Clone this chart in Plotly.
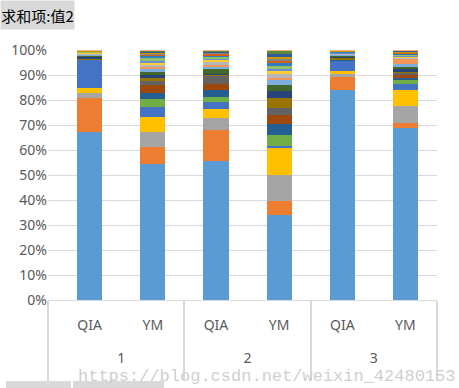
import plotly.graph_objects as go

groups = ["1", "2", "3"]
cats = ["QIA", "YM", "QIA", "YM", "QIA", "YM"]
bar_ids = ["1-QIA", "1-YM", "2-QIA", "2-YM", "3-QIA", "3-YM"]

# series values per bar (QIA1, YM1, QIA2, YM2, QIA3, YM3), percent of each bar
series = [
    [67.3, 54.6, 55.6, 34.0, 84.4, 69.0],
    [13.7, 6.5, 12.7, 5.6, 5.5, 1.9],
    [2.0, 6.3, 4.5, 10.4, 1.3, 6.9],
    [2.2, 6.0, 3.6, 11.0, 0.9, 6.3],
    [11.0, 4.0, 2.8, 0.7, 4.3, 2.5],
    [0.0, 3.1, 2.0, 4.3, 0.0, 1.6],
    [0.0, 2.4, 2.8, 4.5, 0.3, 0.8],
    [0.0, 3.2, 2.7, 3.5, 0.0, 1.2],
    [0.0, 1.6, 2.9, 2.9, 0.0, 0.8],
    [0.9, 1.3, 0.9, 3.9, 0.9, 0.4],
    [0.8, 1.2, 0.2, 2.8, 0.4, 1.1],
    [0.3, 1.2, 1.7, 2.4, 0.3, 0.8],
    [0.3, 1.0, 1.2, 2.1, 0.4, 1.2],
    [0.2, 0.9, 0.7, 0.8, 0.2, 1.9],
    [0.3, 0.8, 0.9, 1.5, 0.3, 0.5],
    [0.4, 0.9, 1.2, 1.1, 0.2, 0.5],
    [0.1, 0.7, 0.5, 0.8, 0.2, 0.4],
    [0.1, 1.3, 0.7, 1.2, 0.1, 0.4],
    [0.1, 0.7, 0.5, 1.2, 0.2, 0.3],
    [0.1, 0.5, 0.5, 1.3, 0.1, 0.3],
    [0.1, 0.4, 0.4, 0.3, 0.2, 0.3],
    [0.1, 0.4, 0.3, 1.0, 0.1, 0.3],
    [0.1, 0.4, 0.3, 1.3, 0.1, 0.2],
    [0.1, 0.3, 0.2, 1.2, 0.1, 0.2],
    [0.1, 0.2, 0.2, 0.2, 0.1, 0.1],
    [0.1, 0.2, 0.2, 0.1, 0.1, 0.1],
]

colors = [
    "#5B9BD5", "#ED7D31", "#A5A5A5", "#FFC000", "#4472C4", "#70AD47",
    "#255E91", "#9E480E", "#636363", "#997300", "#264478", "#43682B",
    "#7CAFDD", "#F1975A", "#B7B7B7", "#FFCD33", "#698ED0", "#8CC168",
    "#327DC2", "#D26012", "#848484", "#CC9A00", "#335AA1", "#5A8A39",
    "#9DC3E6", "#F4B183",
]

ytick_vals = [0, 10, 20, 30, 40, 50, 60, 70, 80, 90, 100]
ytick_text = [f"{v}%" for v in ytick_vals]

fig = go.Figure()
for i, vals in enumerate(series):
    fig.add_trace(go.Bar(
        x=bar_ids, y=vals, name=f"S{i+1}",
        marker=dict(color=colors[i % len(colors)], line=dict(width=0)),
    ))
# empty traces so the helper axes exist
fig.add_trace(go.Scatter(x=[], y=[], xaxis="x2", showlegend=False))
fig.add_trace(go.Scatter(x=[], y=[], xaxis="x3", showlegend=False))

n = len(bar_ids)
xr = [-0.66, n - 0.5]
font_main = "Noto Sans, Liberation Sans, sans-serif"
fig.update_layout(
    barmode="stack", barnorm="percent", bargap=0.6,
    width=459, height=388,
    margin=dict(l=48, r=22, t=50, b=88),
    paper_bgcolor="white", plot_bgcolor="white",
    showlegend=False,
    font=dict(family=font_main, size=14, color="#595959"),
    yaxis=dict(range=[0, 100], tickvals=ytick_vals, ticktext=ytick_text,
               showgrid=True, gridcolor="#D9D9D9", gridwidth=1,
               zeroline=False, showline=False, ticks="", automargin=False,
               tickfont=dict(size=14, color="#595959")),
    xaxis=dict(type="category", range=xr,
               tickvals=bar_ids, ticktext=cats,
               showgrid=False, showline=True, automargin=False,
               linecolor="#D9D9D9", linewidth=1, ticks="",
               ticklabelstandoff=12,
               tickfont=dict(size=14, color="#595959")),
    xaxis2=dict(overlaying="x", anchor="y", side="bottom", range=xr,
                tickvals=[xr[0], 1.5, 3.5, 5.5], ticktext=["", "", "", ""],
                ticks="outside", ticklen=80, tickwidth=2, tickcolor="#D9D9D9",
                showgrid=False, zeroline=False, showline=False, automargin=False),
    xaxis3=dict(overlaying="x", anchor="y", side="bottom", range=xr,
                tickvals=[0.5, 2.5, 4.5], ticktext=groups,
                ticks="", ticklabelstandoff=48,
                showgrid=False, zeroline=False, showline=False, automargin=False,
                tickfont=dict(size=14, color="#595959")),
)

# pivot field button
fig.add_annotation(xref="paper", yref="paper", x=-0.1234, y=1.2,
                   xanchor="left", yanchor="top", showarrow=False,
                   text="求和项:值2", bgcolor="#D9D9D9", borderpad=0,
                   width=73, height=28,
                   font=dict(family="Noto Sans CJK SC", size=15, color="#000000"))
# bottom buttons (partially visible)
fig.add_shape(type="rect", xref="paper", yref="paper", x0=-0.108, x1=0.0591,
              y0=-0.36, y1=-0.324, fillcolor="#D9D9D9", line=dict(width=0))
fig.add_shape(type="rect", xref="paper", yref="paper", x0=0.0643, x1=0.298,
              y0=-0.36, y1=-0.324, fillcolor="#D9D9D9", line=dict(width=0))
# watermark
fig.add_annotation(xref="paper", yref="paper", x=0.072, y=-0.304,
                   xanchor="left", yanchor="middle", showarrow=False,
                   text="https://blog.csdn.net/weixin_42480153",
                   font=dict(family="Liberation Mono", size=17, color="#CFCFCF"))

fig.write_html("out.html", config={"displayModeBar": False},
               post_script="document.body.style.margin='0px';")
